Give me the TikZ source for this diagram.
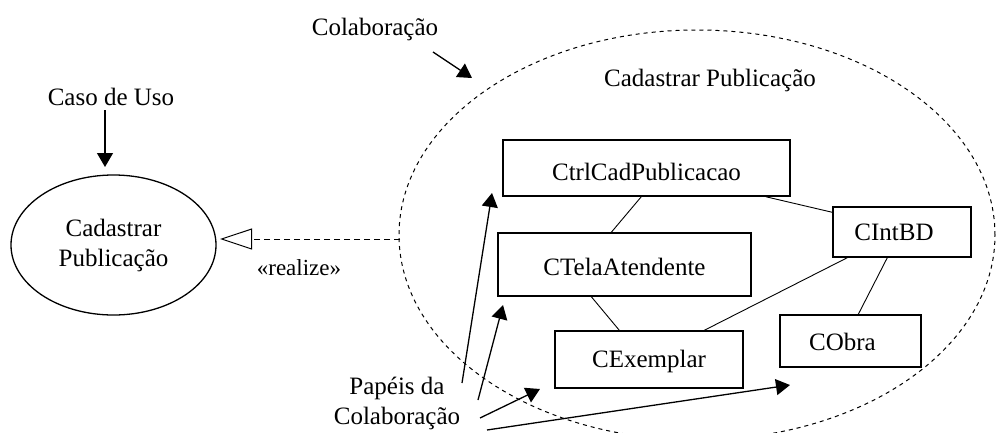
\documentclass[tikz,border=0pt]{standalone}
\usepackage{fontspec}
\setmainfont{Liberation Serif}
\usetikzlibrary{arrows.meta,shapes.geometric,calc}
\begin{document}
\begin{tikzpicture}[x=1pt,y=-1pt,
  font=\fontsize{25}{30}\selectfont,
  classbox/.style={draw,line width=1.4pt,inner sep=0pt},
  conn/.style={line width=0.9pt},
  fillarrow/.style={line width=1.3pt,-{Triangle[length=14pt,width=16pt]}},
  collabshape/.style={draw,ellipse,dashed,dash pattern=on 4pt off 4pt,line width=1pt,inner sep=0pt},
]
\useasboundingbox (0,0) rectangle (997,432);

% collaboration ellipse
\node[collabshape,minimum width=596pt,minimum height=410pt] (collab) at (697,235) {};
\node (titulo) at (710,80) {Cadastrar Publicação};

% use case
\node[draw,ellipse,line width=1.3pt,inner sep=0pt,minimum width=205pt,minimum height=140pt,align=center] (uc) at (113.5,245) {Cadastrar\\Publicação};

% labels
\node (colabtxt) at (375,29) {Colaboração};
\node (casotxt) at (111,97) {Caso de Uso};
\node[font=\fontsize{23}{28}\selectfont] (realize) at (299,268) {«realize»};
\node[align=center] (papeis) at (397,403) {Papéis da\\Colaboração};

% classes
\node[classbox,minimum width=287pt,minimum height=56pt] (ctrl) at (646.5,168) {};
\node at ([yshift=-4]ctrl.center) {CtrlCadPublicacao};
\node[classbox,minimum width=253pt,minimum height=63pt] (tela) at (624.5,264.5) {};
\node at ([yshift=-2]tela.center) {CTelaAtendente};
\node[classbox,minimum width=188pt,minimum height=57pt] (exemp) at (649,359.5) {};
\node at ([yshift=-2]exemp.center) {CExemplar};
\node[classbox,minimum width=138pt,minimum height=50pt] (cint) at (902,232) {};
\node at ([xshift=-8]cint.center) {CIntBD};
\node[classbox,minimum width=141pt,minimum height=52pt] (cobra) at (850.5,341) {};
\node at ([xshift=-8,yshift=-1]cobra.center) {CObra};

% associations
\draw[conn] ([xshift=139]ctrl.south west) -- ([xshift=114]tela.north west);
\draw[conn] ([xshift=-25]ctrl.south east) -- ([yshift=-6]cint.north west);
\draw[conn] ([xshift=94]tela.south west) -- ([xshift=65]exemp.north west);
\draw[conn] ([xshift=150]exemp.north west) -- ([xshift=15]cint.south west);
\draw[conn] ([xshift=55]cint.south west) -- ([xshift=79]cobra.north west);

% realize
\coordinate (rs) at (400,239);
\coordinate (rt) at (220,239);
\draw[line width=1pt,dash pattern=on 6pt off 4pt,-{Triangle[open,length=32pt,width=21pt]}] (rs) -- (rt);

% pointer arrows
\coordinate (c1s) at (433,52); \coordinate (c1t) at (472,78);
\draw[fillarrow] (c1s) -- (c1t);
\coordinate (u1s) at (105,110); \coordinate (u1t) at (105,167);
\draw[fillarrow] (u1s) -- (u1t);

\coordinate (p1s) at (462,383); \coordinate (p1t) at (492,193);
\coordinate (p2s) at (478,400); \coordinate (p2t) at (503,305);
\coordinate (p3s) at (480,418); \coordinate (p3t) at (540,389);
\coordinate (p4s) at (487,430); \coordinate (p4t) at (790,385);
\draw[fillarrow] (p1s) -- (p1t);
\draw[fillarrow] (p2s) -- (p2t);
\draw[fillarrow] (p3s) -- (p3t);
\draw[fillarrow] (p4s) -- (p4t);
\end{tikzpicture}
\end{document}
